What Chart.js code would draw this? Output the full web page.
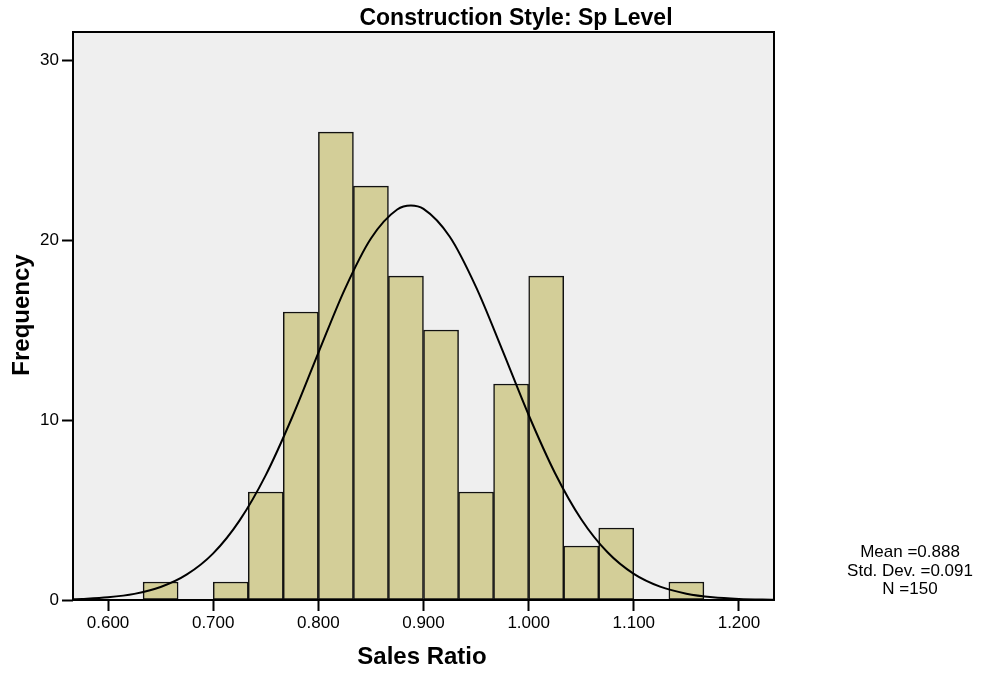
<!DOCTYPE html>
<html>
<head>
<meta charset="utf-8">
<script src="https://cdn.jsdelivr.net/npm/chart.js@4/dist/chart.umd.min.js"></script>
<style>
  html, body { margin: 0; padding: 0; background: #fff; }
  canvas { display: block; }
</style>
</head>
<body>
<canvas id="hist" width="986" height="674"></canvas>
<script>
// histogram bins (centres, width 1/30) and their counts
const BIN_CENTERS = [0.65, 0.7167, 0.75, 0.7833, 0.8167, 0.85, 0.8833, 0.9167, 0.95, 0.9833, 1.0167, 1.05, 1.0833, 1.15];
const BIN_COUNTS = [1, 1, 6, 16, 26, 23, 18, 15, 6, 12, 18, 3, 4, 1];

// fitted normal curve
const CURVE_X = [0.5667, 0.575, 0.6, 0.625, 0.65, 0.675, 0.7, 0.725, 0.75, 0.775, 0.8, 0.825, 0.85, 0.875, 0.888,
  0.9, 0.925, 0.95, 0.975, 1.0, 1.025, 1.05, 1.075, 1.1, 1.125, 1.15, 1.175, 1.2, 1.2333];
const CURVE_Y = [0.04, 0.06, 0.15, 0.34, 0.72, 1.42, 2.59, 4.41, 6.94, 10.14, 13.73, 17.25, 20.09, 21.7, 21.92,
  21.73, 20.18, 17.38, 13.88, 10.28, 7.06, 4.49, 2.65, 1.45, 0.74, 0.35, 0.15, 0.06, 0.02];

const X_TICKS = [0.6, 0.7, 0.8, 0.9, 1.0, 1.1, 1.2];
const Y_TICKS = [0, 10, 20, 30];

const TITLE = 'Construction Style: Sp Level';
const X_TITLE = 'Sales Ratio';
const Y_TITLE = 'Frequency';
const STATS = ['Mean =0.888', 'Std. Dev. =0.091', 'N =150'];

const FONT = '"Liberation Sans", Arial, Helvetica, sans-serif';

const framePlugin = {
  id: 'frame',
  beforeDraw(chart) {
    const { ctx, chartArea: a } = chart;
    ctx.save();
    ctx.fillStyle = '#fff';
    ctx.fillRect(0, 0, chart.width, chart.height);
    ctx.fillStyle = '#efefef';
    ctx.fillRect(a.left, a.top, a.right - a.left, a.bottom - a.top);
    ctx.restore();
  },
  afterDatasetsDraw(chart) {
    const { ctx, chartArea: a } = chart;
    ctx.save();
    ctx.strokeStyle = '#000';
    ctx.lineWidth = 2;
    ctx.strokeRect(a.left, a.top, a.right - a.left, a.bottom - a.top);
    ctx.restore();
  },
  afterDraw(chart) {
    const { ctx } = chart;
    ctx.save();
    ctx.fillStyle = '#000';
    ctx.textAlign = 'center';
    ctx.textBaseline = 'alphabetic';

    ctx.font = `bold 23px ${FONT}`;
    ctx.fillText(TITLE, 516, 25);

    ctx.font = `bold 24px ${FONT}`;
    ctx.fillText(X_TITLE, 422, 664);

    ctx.save();
    ctx.translate(29, 315);
    ctx.rotate(-Math.PI / 2);
    ctx.fillText(Y_TITLE, 0, 0);
    ctx.restore();

    ctx.font = `17px ${FONT}`;
    const base = [557, 576, 594];
    STATS.forEach((s, i) => ctx.fillText(s, 910, base[i]));
    ctx.restore();
  }
};

new Chart(document.getElementById('hist'), {
  type: 'bar',
  data: {
    datasets: [
      {
        type: 'line',
        data: CURVE_X.map((x, i) => ({ x, y: CURVE_Y[i] })),
        borderColor: '#000',
        borderWidth: 2,
        pointRadius: 0,
        fill: false,
        cubicInterpolationMode: 'monotone',
        order: 0,
      },
      {
        type: 'bar',
        data: BIN_CENTERS.map((x, i) => ({ x, y: BIN_COUNTS[i] })),
        backgroundColor: '#d3ce98',
        borderColor: '#111',
        borderWidth: 1.5,
        borderSkipped: false,
        barPercentage: 1,
        categoryPercentage: 1,
        order: 1,
      },
    ],
  },
  options: {
    responsive: false,
    animation: false,
    events: [],
    layout: { padding: { top: 32, right: 212, left: 0, bottom: 0 } },
    plugins: { legend: { display: false }, tooltip: { enabled: false }, title: { display: false } },
    scales: {
      x: {
        type: 'linear',
        min: 0.56667,
        max: 1.23333,
        offset: false,
        afterBuildTicks: (s) => { s.ticks = X_TICKS.map((v) => ({ value: v })); },
        afterFit: (s) => { s.height = 74; },
        grid: { offset: false, drawOnChartArea: false, drawTicks: true, tickLength: 11, tickWidth: 2, tickColor: '#000' },
        border: { display: false },
        ticks: {
          color: '#000',
          font: { family: FONT, size: 17 },
          padding: 2,
          maxRotation: 0,
          autoSkip: false,
          callback: (v) => v.toFixed(3),
        },
      },
      y: {
        type: 'linear',
        min: 0,
        max: 31.56,
        afterBuildTicks: (s) => { s.ticks = Y_TICKS.map((v) => ({ value: v })); },
        afterFit: (s) => { s.width = 73; },
        grid: { drawOnChartArea: false, drawTicks: true, tickLength: 11, tickWidth: 2, tickColor: '#000' },
        border: { display: false },
        ticks: {
          color: '#000',
          font: { family: FONT, size: 17 },
          padding: 3,
          autoSkip: false,
        },
      },
    },
  },
  plugins: [framePlugin],
});
</script>
</body>
</html>
